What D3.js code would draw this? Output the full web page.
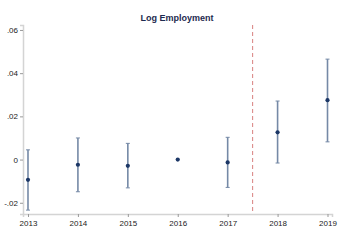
<!DOCTYPE html>
<html>
<head>
<meta charset="utf-8">
<script src="https://cdn.jsdelivr.net/npm/d3@7"></script>
<style>
  body { margin: 0; background: #fff; }
  svg { display: block; font-family: "Liberation Sans", Arial, sans-serif; }
</style>
</head>
<body>
<svg id="chart" width="360" height="244"></svg>
<script>
// estimated coefficients per year, with 95% CI (2016 is the base year)
const years = [2013, 2014, 2015, 2016, 2017, 2018, 2019]
const coef  = [-0.0094, -0.0024, -0.0029, 0, -0.0013, 0.0126, 0.0275]
const lower = [-0.0234, -0.0149, -0.0131, null, -0.0129, -0.0016, 0.0082]
const upper = [0.0045, 0.0100, 0.0075, null, 0.0103, 0.0271, 0.0465]
const yTicks = [-0.02, 0, 0.02, 0.04, 0.06]
const yTickLabels = ['-.02', '0', '.02', '.04', '.06']
const breakYear = 2017.5

const width = 360, height = 244
const marginLeft = 23, marginRight = 28, marginTop = 25, marginBottom = 30

const svg = d3.select('#chart')

const x = d3.scaleLinear()
    .domain([2012.9, 2019.09])
    .range([marginLeft, width - marginRight])
const y = d3.scaleLinear()
    .domain([-0.0252, 0.0623])
    .range([height - marginBottom, marginTop])

const axisColor = '#d4d4d4'

// y axis
svg.append('g')
    .attr('transform', `translate(${marginLeft},0)`)
    .call(d3.axisLeft(y).tickValues(yTicks).tickFormat((d, i) => yTickLabels[i]).tickSize(3).tickPadding(2))
    .call(g => g.select('.domain').attr('stroke', axisColor).attr('stroke-width', 1.5))
    .call(g => g.selectAll('.tick line').attr('stroke', '#999'))
    .call(g => g.selectAll('.tick text').attr('font-size', 8).attr('fill', '#222').attr('font-family', null))

// x axis
svg.append('g')
    .attr('transform', `translate(0,${height - marginBottom})`)
    .call(d3.axisBottom(x).tickValues(years).tickFormat(d3.format('d')).tickSize(3).tickPadding(3))
    .call(g => g.select('.domain').attr('stroke', axisColor).attr('stroke-width', 1.5))
    .call(g => g.selectAll('.tick line').attr('stroke', '#999'))
    .call(g => g.selectAll('.tick text').attr('font-size', 8).attr('fill', '#222').attr('font-family', null))

// policy break line
svg.append('line')
    .attr('x1', x(breakYear)).attr('x2', x(breakYear))
    .attr('y1', y.range()[1]).attr('y2', y.range()[0])
    .attr('stroke', '#d9807f')
    .attr('stroke-width', 1)
    .attr('stroke-dasharray', '4,3')

const data = years.map((yr, i) => ({ yr, c: coef[i], lo: lower[i], hi: upper[i] }))
const ci = data.filter(d => d.lo !== null)

// confidence intervals
const bars = svg.append('g')
bars.selectAll('line.ci')
    .data(ci)
    .join('line')
    .attr('class', 'ci')
    .attr('x1', d => x(d.yr)).attr('x2', d => x(d.yr))
    .attr('y1', d => y(d.lo)).attr('y2', d => y(d.hi))
    .attr('stroke', '#7589a6')
    .attr('stroke-width', 1.6)
bars.selectAll('line.capTop')
    .data(ci)
    .join('line')
    .attr('class', 'capTop')
    .attr('x1', d => x(d.yr) - 2).attr('x2', d => x(d.yr) + 2)
    .attr('y1', d => y(d.hi)).attr('y2', d => y(d.hi))
    .attr('stroke', '#7589a6')
    .attr('stroke-width', 1)
bars.selectAll('line.capBot')
    .data(ci)
    .join('line')
    .attr('class', 'capBot')
    .attr('x1', d => x(d.yr) - 2).attr('x2', d => x(d.yr) + 2)
    .attr('y1', d => y(d.lo)).attr('y2', d => y(d.lo))
    .attr('stroke', '#7589a6')
    .attr('stroke-width', 1)

// point estimates
svg.append('g')
    .selectAll('circle')
    .data(data)
    .join('circle')
    .attr('cx', d => x(d.yr))
    .attr('cy', d => y(d.c))
    .attr('r', 2.1)
    .attr('fill', '#1c3766')

// title
svg.append('text')
    .attr('x', 177)
    .attr('y', 21)
    .attr('text-anchor', 'middle')
    .attr('font-size', 9)
    .attr('font-weight', 'bold')
    .attr('fill', '#1e2a4f')
    .text('Log Employment')
</script>
</body>
</html>
